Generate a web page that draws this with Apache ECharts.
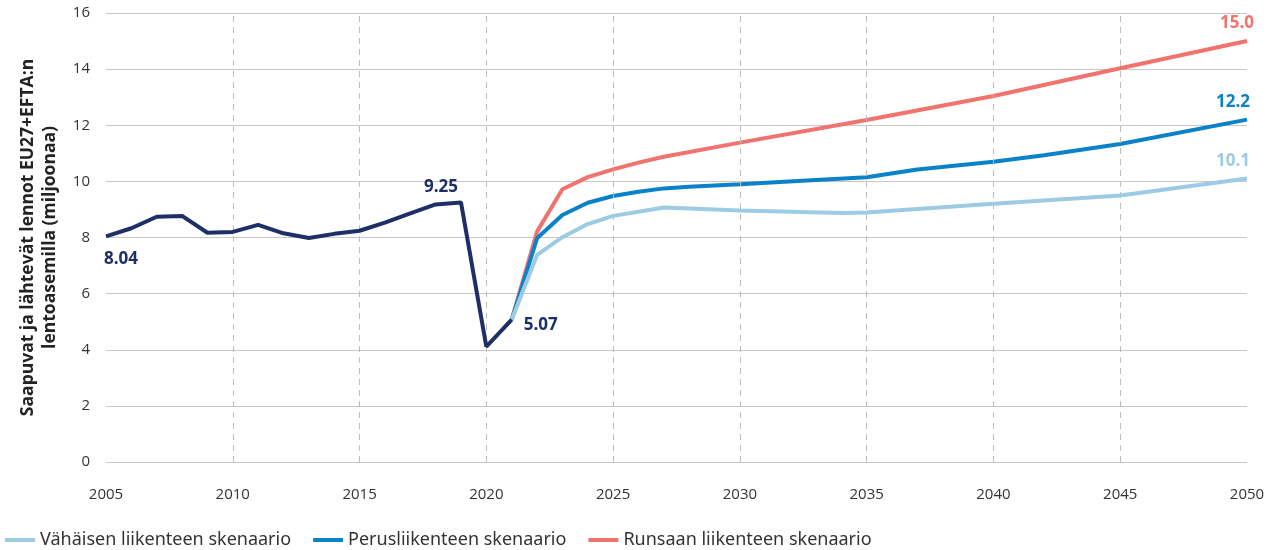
<!DOCTYPE html>
<html>
<head>
<meta charset="utf-8">
<script src="https://cdn.jsdelivr.net/npm/echarts@6/dist/echarts.min.js"></script>
<style>
html, body { margin: 0; padding: 0; background: #fff; }
#main { width: 1274px; height: 550px; }
</style>
</head>
<body>
<div id="main"></div>
<script>
// toteutunut 2005-2021
var histYears = [2005, 2006, 2007, 2008, 2009, 2010, 2011, 2012, 2013, 2014, 2015, 2016, 2017, 2018, 2019, 2020, 2021];
var histValues = [8.04, 8.33, 8.74, 8.77, 8.17, 8.20, 8.45, 8.15, 7.98, 8.13, 8.24, 8.53, 8.86, 9.18, 9.25, 4.11, 5.07];

// skenaariot
var lowYears = [2021, 2022, 2023, 2024, 2025, 2026, 2027, 2030, 2034, 2035, 2040, 2045, 2050];
var lowValues = [5.07, 7.38, 8.01, 8.48, 8.77, 8.92, 9.07, 8.96, 8.87, 8.89, 9.20, 9.50, 10.1];

var baseYears = [2021, 2022, 2023, 2024, 2025, 2026, 2027, 2028, 2030, 2033, 2035, 2037, 2040, 2042, 2045, 2050];
var baseValues = [5.07, 7.97, 8.80, 9.24, 9.48, 9.63, 9.75, 9.81, 9.90, 10.05, 10.15, 10.42, 10.70, 10.93, 11.33, 12.2];

var highYears = [2021, 2022, 2023, 2024, 2025, 2026, 2027, 2030, 2035, 2040, 2045, 2050];
var highValues = [5.07, 8.21, 9.72, 10.15, 10.43, 10.67, 10.88, 11.38, 12.19, 13.04, 14.03, 15.0];

var seriesNames = ['Vähäisen liikenteen skenaario', 'Perusliikenteen skenaario', 'Runsaan liikenteen skenaario'];
var gridYears = [2010, 2015, 2020, 2025, 2030, 2035, 2040, 2045];

var cNavy = '#1d2f66', cLow = '#9dcbe3', cBase = '#0a82c9', cHigh = '#f0736e';

function pairs(xs, ys) {
	var out = [];
	for (var i = 0; i < xs.length; i++) out.push([xs[i], ys[i]]);
	return out;
}

function endLabel(data, color, digits, dx) {
	var last = data[data.length - 1];
	data[data.length - 1] = {
		value : last,
		label : {
			show : true, position : 'top', offset : [ dx, -4 ],
			formatter : function(p) { return p.value[1].toFixed(digits); },
			color : color, fontSize : 17, fontWeight : 'bold', fontFamily : 'Open Sans'
		}
	};
	return data;
}

var histData = pairs(histYears, histValues);
var lblStyle = { show : true, color : cNavy, fontSize : 17, fontWeight : 'bold', fontFamily : 'Open Sans',
	formatter : function(p) { return p.value[1].toFixed(2); } };
histData[0] = { value : histData[0], label : Object.assign({}, lblStyle, { position : 'bottom', offset : [ 15, 9 ] }) };
histData[14] = { value : histData[14], label : Object.assign({}, lblStyle, { position : 'top', offset : [ -20, -2 ] }) };
histData[16] = { value : histData[16], label : Object.assign({}, lblStyle, { position : 'right', offset : [ 7, 5 ] }) };

var myChart = echarts.init(document.getElementById('main'));

function lineSeries(name, color, z, data) {
	return {
		name : name, type : 'line', z : z,
		symbol : 'circle', symbolSize : 0.01, showSymbol : true,
		lineStyle : { width : 4, color : color }, itemStyle : { color : color },
		label : { show : false },
		data : data
	};
}

var option = {
	animation : false,
	textStyle : { fontFamily : 'Open Sans' },
	grid : { left : 106, right : 27, top : 13, bottom : 88 },
	legend : {
		left : 0, bottom : -4, icon : 'rect',
		itemWidth : 30, itemHeight : 4, itemGap : 22,
		textStyle : { fontSize : 18, color : '#333', fontFamily : 'Noto Sans' },
		data : seriesNames
	},
	xAxis : {
		type : 'value', min : 2005, max : 2050, interval : 5,
		axisLine : { show : false }, axisTick : { show : false },
		splitLine : { show : false },
		axisLabel : { fontSize : 15, color : '#333', margin : 25, formatter : function(v) { return String(v); } }
	},
	yAxis : {
		type : 'value', min : 0, max : 16, interval : 2,
		axisLine : { show : false }, axisTick : { show : false },
		splitLine : { lineStyle : { color : '#c8c8c8', width : 1 } },
		axisLabel : { fontSize : 15, color : '#333', margin : 16 },
		name : 'Saapuvat ja lähtevät lennot EU27+EFTA:n\nlentoasemilla (miljoonaa)',
		nameLocation : 'middle', nameRotate : 90, nameGap : 45,
		nameTextStyle : { fontSize : 17.5, fontWeight : 'bold', color : '#222', lineHeight : 22, fontFamily : 'Open Sans' }
	},
	series : [
		{
			name : 'grid', type : 'line', data : [], silent : true,
			markLine : {
				silent : true, symbol : 'none', label : { show : false },
				lineStyle : { color : '#bdbdbd', type : [ 6, 5 ], width : 1 },
				data : gridYears.map(function(y) { return { xAxis : y }; })
			}
		},
		lineSeries(seriesNames[2], cHigh, 3, endLabel(pairs(highYears, highValues), cHigh, 1, -10)),
		lineSeries(seriesNames[1], cBase, 4, endLabel(pairs(baseYears, baseValues), cBase, 1, -14)),
		lineSeries(seriesNames[0], cLow, 5, endLabel(pairs(lowYears, lowValues), cLow, 1, -14)),
		lineSeries('Toteutunut', cNavy, 6, histData)
	]
};

myChart.setOption(option);
</script>
</body>
</html>
